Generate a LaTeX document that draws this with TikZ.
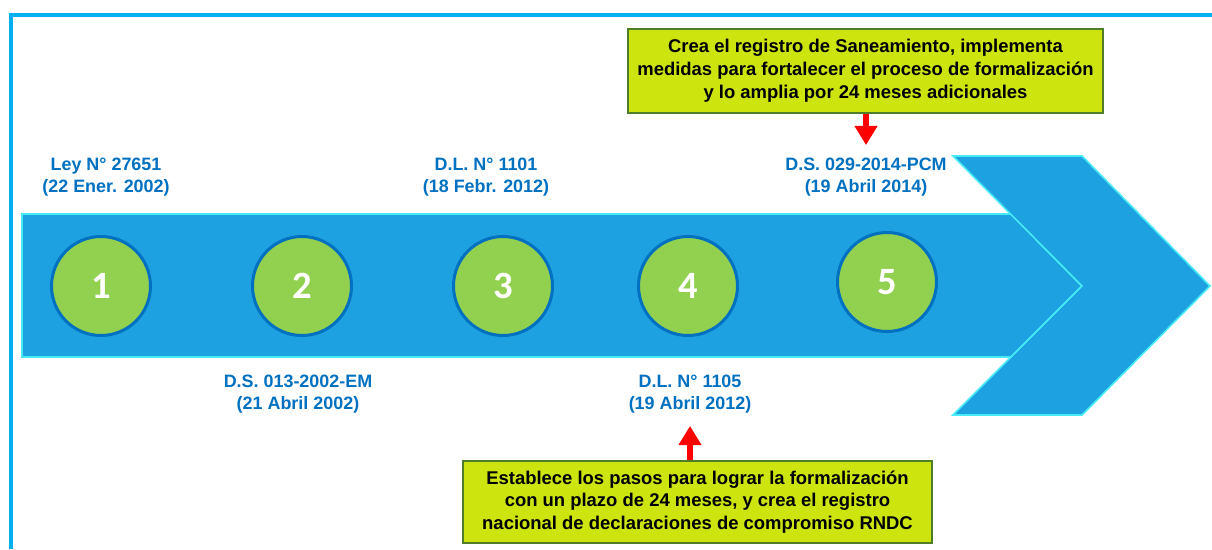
\documentclass[tikz,border=0pt]{standalone}
\usepackage{fontspec}
\setmainfont{Liberation Sans}
\newfontfamily\numfont{Carlito}
\usepackage{tikz}
\usetikzlibrary{arrows.meta}

\definecolor{framecol}{RGB}{0,176,240}
\definecolor{bandblue}{RGB}{29,161,224}
\definecolor{bandedge}{RGB}{70,235,245}
\definecolor{circfill}{RGB}{146,208,80}
\definecolor{circedge}{RGB}{0,112,192}
\definecolor{labblue}{RGB}{0,112,192}
\definecolor{boxfill}{RGB}{205,228,14}
\definecolor{boxedge}{RGB}{80,125,40}

\begin{document}
\begin{tikzpicture}[x=0.02cm,y=-0.02cm]
\useasboundingbox (0,0) rectangle (1212,549);
\draw[framecol, line width=2.3pt] (11,549) -- (11,15) -- (1212,15);
\draw[fill=bandblue, draw=bandedge, line width=0.9pt] (22,214) -- (1011,214) -- (1082,286) -- (1011,357) -- (22,357) -- cycle;
\draw[fill=bandblue, draw=bandedge, line width=0.9pt] (953,156) -- (1082,156) -- (1210,286) -- (1082,415) -- (953,415) -- (1082,286) -- cycle;
	\begin{scope}[every node/.style = {circle, draw=circedge, fill=circfill, line width=1.7pt,
		minimum size=1.98cm, inner sep=0pt, text=white,
		font=\numfont\bfseries\fontsize{22}{22}\selectfont}]
		\node (c1) at (101,286) {1};
		\node (c2) at (302,286) {2};
		\node (c3) at (503,286) {3};
		\node (c4) at (688,286) {4};
		\node (c5) at (887,282) {5};
	\end{scope}
	\begin{scope}[every node/.style = {align=center, text=labblue,
		font=\bfseries\fontsize{10.2}{12.6}\selectfont}]
		\node (l1) at (106,177) {Ley N° 27651\\(22 Ener. 2002)};
		\node (l2) at (298,394) {D.S. 013-2002-EM\\(21 Abril 2002)};
		\node (l3) at (486,177) {D.L. N° 1101\\(18 Febr. 2012)};
		\node (l4) at (690,394) {D.L. N° 1105\\(19 Abril 2012)};
		\node (l5) at (866,177) {D.S. 029-2014-PCM\\(19 Abril 2014)};
	\end{scope}
	\begin{scope}[every node/.style = {draw=boxedge, fill=boxfill, line width=1.3pt,
		align=center, inner sep=0pt, font=\bfseries\fontsize{10.5}{13}\selectfont}]
		\node[minimum width=9.5cm, minimum height=1.68cm] (top) at (865.5,71)
			{Crea el registro de Saneamiento, implementa\\medidas para fortalecer el proceso de formalización\\y lo amplia por 24 meses adicionales};
		\node[minimum width=9.38cm, minimum height=1.64cm] (bot) at (697.5,502)
			{Establece los pasos para lograr la formalización\\con un plazo de 24 meses, y crea el registro\\nacional de declaraciones de compromiso RNDC};
	\end{scope}
	\begin{scope}[>={Triangle[length=11pt, width=12.5pt]},
			every edge/.style={draw=red, line width=3.2pt, shorten >=3.7pt}]
		\path [->] (top.south -| l5) edge (l5.north);
		\path [->] (bot.north -| l4) edge (l4.south);
	\end{scope}
\end{tikzpicture}
\end{document}
